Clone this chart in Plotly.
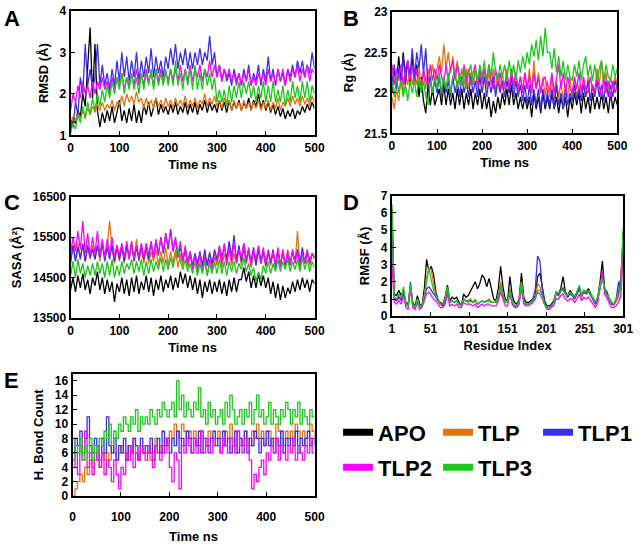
import plotly.graph_objects as go

# ---------------- data ----------------
time_ns = list(range(0, 501, 5))
residues = list(range(1, 302, 3))
names = ["APO", "TLP", "TLP1", "TLP2", "TLP3"]
colors = ["#000000", "#E8700F", "#3B2BF5", "#FF00FF", "#19C819"]

# Panel A: RMSD (Å)
rmsd_apo = [1.1,1.35,1.3,1.6,1.45,2.0,1.7,2.6,3.6,1.9,
            3.2,1.6,1.2,1.55,1.3,1.6,1.35,1.7,1.3,1.55,
            1.85,1.35,1.6,1.3,1.65,1.35,1.75,1.3,1.6,1.3,
            1.75,1.5,1.8,1.45,1.7,1.9,1.5,1.75,1.55,1.7,
            1.5,1.75,1.55,1.8,1.5,1.7,1.55,1.8,1.5,1.75,
            1.55,1.8,1.5,1.75,1.6,1.85,1.55,1.8,1.6,1.75,
            1.55,1.85,1.6,1.8,1.55,1.85,1.6,1.8,1.65,1.85,
            1.6,1.8,1.65,1.9,1.6,1.85,1.7,2.0,1.65,1.85,
            1.6,1.8,1.55,1.75,1.5,1.7,1.45,1.65,1.4,1.6,
            1.45,1.65,1.4,1.6,1.5,1.7,1.55,1.75,1.6,1.8,
            1.65]
rmsd_tlp = [1.25,1.45,1.35,1.55,1.4,1.6,1.45,1.65,1.5,1.7,
            1.55,1.75,1.6,1.8,1.6,1.75,1.65,1.85,1.6,1.8,
            1.75,1.95,1.7,2.0,1.8,1.95,1.75,2.05,1.8,1.9,
            1.65,1.9,1.7,1.85,1.65,1.9,1.7,1.85,1.65,1.9,
            1.7,1.85,1.65,1.9,1.7,1.85,1.7,1.95,1.65,1.85,
            1.7,1.9,1.65,1.85,1.75,2.0,1.7,1.9,1.75,1.95,
            1.7,1.85,1.65,1.9,1.7,1.85,1.6,1.85,1.65,1.8,
            1.6,1.85,1.65,1.8,1.6,1.8,1.65,1.85,1.6,1.8,
            1.65,1.85,1.6,1.8,1.65,1.9,1.6,1.8,1.7,1.9,
            1.7,1.95,1.75,1.9,1.7,1.95,1.75,1.9,1.7,1.95,
            1.8]
rmsd_tlp1 = [1.4,1.2,1.8,1.5,2.4,2.0,3.2,2.2,2.6,2.1,
             2.4,3.2,2.2,2.7,2.2,2.5,2.1,2.6,2.2,2.8,
             2.3,3.0,2.4,2.9,2.3,2.8,2.4,3.0,2.3,2.8,
             2.4,2.9,2.5,3.1,2.4,2.9,2.5,2.8,2.4,2.9,
             2.6,3.1,2.7,3.2,2.6,3.0,2.7,3.1,2.6,3.0,
             2.6,3.0,2.7,3.1,2.7,3.0,2.8,3.4,2.7,3.0,
             2.4,2.7,2.3,2.6,2.3,2.5,2.2,2.6,2.3,2.5,
             2.2,2.6,2.3,2.7,2.2,2.5,2.3,2.7,2.2,2.6,
             2.3,2.9,2.3,2.6,2.2,2.6,2.3,2.5,2.2,2.6,
             2.4,2.7,2.4,2.8,2.5,2.8,2.4,2.7,2.5,3.0,
             2.6]
rmsd_tlp2 = [1.6,2.0,1.8,2.2,1.9,2.3,2.0,2.2,1.9,2.3,
             2.0,2.3,2.1,2.4,2.1,2.3,2.0,2.4,2.1,2.4,
             2.2,2.5,2.1,2.4,2.2,2.5,2.2,2.6,2.2,2.5,
             2.2,2.6,2.3,2.5,2.2,2.6,2.3,2.6,2.3,2.5,
             2.3,2.6,2.3,2.6,2.3,2.7,2.3,2.6,2.3,2.7,
             2.3,2.6,2.4,2.7,2.3,2.6,2.4,2.8,2.4,2.7,
             2.4,2.7,2.3,2.6,2.4,2.6,2.3,2.5,2.2,2.5,
             2.2,2.5,2.3,2.6,2.2,2.4,2.2,2.5,2.3,2.5,
             2.2,2.6,2.3,2.5,2.2,2.6,2.3,2.6,2.2,2.6,
             2.3,2.6,2.4,2.7,2.3,2.6,2.4,2.7,2.3,2.6,
             2.5]
rmsd_tlp3 = [1.05,1.3,1.15,1.5,1.3,1.7,1.4,1.8,1.5,1.9,
             1.6,2.0,1.7,2.1,1.8,2.2,1.9,2.3,2.0,2.4,
             2.1,2.5,2.0,2.4,2.1,2.5,2.1,2.4,2.0,2.5,
             2.1,2.5,2.2,2.6,2.1,2.6,2.2,2.5,2.2,2.6,
             2.2,2.6,2.2,2.8,2.2,2.5,2.1,2.6,2.2,2.6,
             2.1,2.7,2.1,2.5,2.1,2.6,2.2,2.5,2.1,2.4,
             1.8,2.1,1.8,2.1,1.7,2.2,1.8,2.2,1.9,2.3,
             1.9,2.3,2.0,2.3,1.9,2.2,1.8,2.2,1.9,2.3,
             1.8,2.2,1.8,2.3,1.8,2.1,1.8,2.2,1.7,2.1,
             1.8,2.3,1.9,2.2,1.8,2.3,1.9,2.3,1.8,2.2,
             2.0]

# Panel B: Rg (Å)
rg_apo = [22.0,22.3,22.1,22.45,22.15,22.5,22.2,22.4,22.1,22.45,
          22.1,22.35,21.95,22.2,21.9,21.75,22.1,21.85,22.05,21.85,
          21.95,22.05,21.85,22.1,21.85,22.05,21.85,22.0,21.8,22.05,
          21.85,22.05,21.8,22.0,21.85,22.05,21.8,22.0,21.85,22.05,
          21.8,22.0,21.8,21.95,21.7,21.9,21.75,21.95,21.8,22.0,
          21.85,22.05,21.85,22.1,21.85,22.0,21.8,21.95,21.8,21.95,
          21.8,21.95,21.7,22.0,21.8,21.95,21.75,22.0,21.8,21.95,
          21.8,22.0,21.8,21.95,21.75,21.95,21.8,21.95,21.7,21.95,
          21.8,22.0,21.85,22.0,21.75,22.0,21.8,21.95,21.75,22.0,
          21.8,21.95,21.8,22.0,21.8,21.95,21.75,22.0,21.8,21.95,
          21.85]
rg_tlp = [21.95,21.8,22.05,21.9,22.2,22.0,22.25,22.1,22.3,22.1,
          22.25,22.1,22.3,22.1,22.25,22.05,22.3,22.15,22.35,22.15,
          22.3,22.45,22.25,22.6,22.3,22.5,22.25,22.45,22.2,22.4,
          22.1,22.3,22.1,22.3,22.05,22.25,22.1,22.3,22.05,22.3,
          22.1,22.3,22.05,22.25,22.1,22.3,22.0,22.25,22.05,22.25,
          22.05,22.3,22.0,22.2,22.05,22.25,22.0,22.2,22.05,22.25,
          22.05,22.3,22.0,22.4,22.05,22.25,22.0,22.2,21.95,22.15,
          21.95,22.2,21.9,22.15,21.95,22.15,21.9,22.1,21.95,22.2,
          21.9,22.15,21.95,22.1,21.9,22.15,21.95,22.2,21.9,22.1,
          22.0,22.3,22.1,22.4,22.05,22.25,22.0,22.2,22.05,22.2,
          22.1]
rg_tlp1 = [22.1,22.35,22.05,22.3,22.15,22.45,22.1,22.4,22.2,22.55,
           22.2,22.5,22.3,22.6,22.25,22.55,22.05,22.2,22.0,22.15,
           22.0,22.2,21.95,22.2,22.0,22.15,21.95,22.2,22.0,22.15,
           21.95,22.2,22.0,22.15,21.95,22.2,22.0,22.15,21.95,22.2,
           22.0,22.2,21.95,22.15,22.0,22.2,21.95,22.15,22.0,22.15,
           21.95,22.15,22.0,22.2,21.95,22.15,21.95,22.1,21.9,22.1,
           21.85,22.1,21.85,22.05,21.85,22.05,21.8,22.05,21.85,22.0,
           21.85,22.05,21.8,22.1,21.85,22.0,21.8,22.05,21.85,22.0,
           21.9,22.1,21.9,22.05,21.9,22.1,21.95,22.15,21.9,22.1,
           21.95,22.15,21.95,22.1,21.9,22.15,21.95,22.1,21.95,22.15,
           22.05]
rg_tlp2 = [22.35,22.1,22.3,22.15,22.35,22.1,22.3,22.4,22.15,22.35,
           22.1,22.3,22.15,22.05,22.3,22.15,22.1,22.35,22.15,22.3,
           22.15,22.35,22.2,22.1,22.35,22.15,22.3,22.4,22.15,22.35,
           22.2,22.1,22.35,22.15,22.3,22.1,22.25,22.35,22.1,22.3,
           22.15,22.3,22.1,22.35,22.15,22.05,22.3,22.1,22.25,22.05,
           22.1,22.25,22.05,22.3,22.1,22.25,22.05,22.2,22.0,22.25,
           22.05,22.2,22.0,22.25,22.05,22.2,22.0,22.15,22.2,22.0,
           22.05,22.25,22.0,22.2,22.35,22.05,22.25,22.0,22.2,22.05,
           22.0,22.2,22.05,22.25,22.0,22.2,22.05,22.0,22.2,22.05,
           22.0,22.2,22.05,21.95,22.2,22.0,22.15,21.95,22.15,22.0,
           22.1]
rg_tlp3 = [22.15,21.95,22.2,22.0,22.15,21.95,22.1,21.9,22.15,22.0,
           22.15,21.95,22.2,22.0,22.15,21.95,21.85,22.15,22.0,22.2,
           22.05,22.25,22.0,22.2,22.05,22.25,22.0,22.2,22.3,22.05,
           22.25,22.1,22.3,22.05,22.25,22.35,22.1,22.3,22.15,22.35,
           22.2,22.4,22.15,22.35,22.2,22.5,22.25,22.15,22.35,22.2,
           22.35,22.15,22.4,22.2,22.35,22.15,22.4,22.25,22.45,22.3,
           22.5,22.35,22.6,22.45,22.65,22.4,22.7,22.45,22.8,22.5,
           22.5,22.3,22.55,22.25,22.45,22.2,22.4,22.15,22.35,22.2,
           22.15,22.35,22.2,22.4,22.15,22.35,22.45,22.2,22.35,22.15,
           22.35,22.15,22.3,22.4,22.15,22.35,22.2,22.15,22.35,22.2,
           22.3]

# Panel C: SASA (Å²)
sasa_apo = [14200,14500,14150,14550,14250,14600,14200,14450,14100,14500,
            14300,14650,14200,14500,14100,14450,14150,14400,13900,14350,
            14150,14500,14100,14450,14050,14500,14150,14550,14100,14400,
            14200,14550,14150,14500,14050,14450,14200,14550,14150,14450,
            14250,14550,14200,14500,14250,14650,14350,14600,14250,14550,
            14200,14500,14100,14450,14000,14400,14150,14450,14100,14400,
            14150,14450,14100,14400,14050,14450,14150,14500,14150,14450,
            14450,14750,14400,14650,14250,14550,14250,14600,14300,14550,
            14250,14500,14100,14400,14000,14350,13950,14300,14000,14250,
            14100,14400,14150,14450,14200,14500,14250,14450,14150,14450,
            14350]
sasa_tlp = [14900,15300,14950,15350,15000,15300,14900,15250,14950,15300,
            14950,15300,14900,15350,15000,15250,15900,15200,14850,15250,
            14900,15300,14850,15250,14950,15350,14950,15450,14900,15200,
            14850,15200,14850,15150,14900,15200,14800,15150,14850,15250,
            14800,15150,14850,15200,14750,15100,14800,15200,14750,15100,
            14750,15100,14750,15100,14700,15050,14800,15150,14750,15100,
            14800,15150,14750,15100,14850,15200,14800,15100,14850,15250,
            14800,15200,14850,15150,14750,15150,14800,15200,14850,15150,
            14750,15150,14800,15100,14850,15200,14800,15150,14800,15200,
            14800,15150,14850,15650,14800,15150,14850,15100,14800,15100,
            14950]
sasa_tlp1 = [14850,15300,14900,15250,14950,15350,14900,15300,15000,15200,
             14950,15300,15000,15350,14900,15250,14950,15300,14900,15300,
             14950,15250,14900,15300,15000,15350,14900,15250,14950,15300,
             14950,15300,14950,15350,15000,15400,15050,15500,15100,15600,
             15200,15700,15150,15450,15000,15250,14950,15200,14850,15150,
             14800,15100,14850,15150,14800,15200,14800,15100,14850,15200,
             14950,15250,15000,15300,14950,15400,15000,15550,14900,15300,
             14900,15350,14950,15200,14900,15250,14800,15200,14850,15150,
             14800,15150,14850,15200,14750,15150,14800,15150,14800,15050,
             14850,15150,14900,15200,14850,15250,14850,15150,14900,15100,
             15000]
sasa_tlp2 = [15100,15500,15150,15650,15200,15900,15100,15600,15050,15500,
             15100,15650,15050,15450,15000,15450,15050,15500,15000,15300,
             15050,15350,15000,15400,14950,15400,14950,15300,15000,15350,
             15000,15350,15050,15400,15000,15450,15100,15500,15150,15550,
             15250,15650,15150,15500,15000,15400,14900,15300,14800,15150,
             14700,15050,14650,15100,14650,15000,14550,14950,14700,15000,
             14900,15300,14850,15350,14800,15250,14900,15400,14850,15200,
             15000,15350,14850,15250,14800,15200,14950,15300,14900,15250,
             14850,15200,14900,15150,14800,15250,14750,15200,14800,15150,
             14800,15200,14850,15150,14750,15100,14850,15200,14850,15100,
             15000]
sasa_tlp3 = [14550,14900,14500,14950,14600,14850,14500,14800,14550,14850,
             14550,14900,14600,14850,14500,14900,14550,14950,14500,14800,
             14550,14900,14600,14850,14700,14950,14600,14900,14650,14950,
             14550,14900,14600,14950,14650,14900,14700,15000,14650,14950,
             14700,15000,14750,15050,15250,14900,14700,14950,14650,14850,
             14600,14900,14550,14850,14600,14900,14550,14850,14600,14900,
             14600,14950,14600,14900,14550,14900,14650,14900,14600,14850,
             14700,15000,14650,14850,14550,14750,14400,14650,14450,14800,
             14600,14900,14600,14850,14650,14950,14650,14900,14700,14950,
             14650,14900,14700,14950,14650,15000,14700,14950,14650,14900,
             14750]

# Panel D: RMSF (Å) per residue
rmsf_apo = [5.8,1.3,1.2,1.5,1.2,1.4,0.8,0.7,1.6,0.8,
            0.6,1.2,0.7,0.6,1.6,3.3,2.6,2.9,2.4,1.4,
            0.9,0.8,0.7,1.1,1.8,0.9,1.1,1.0,1.1,0.8,
            0.6,1.3,1.1,1.2,1.5,1.8,2.0,1.6,1.9,2.4,
            2.2,1.7,2.2,1.6,1.0,0.9,1.6,2.9,1.7,1.0,
            0.9,2.3,1.2,0.8,0.7,1.0,2.5,1.1,0.8,0.8,
            0.9,1.0,1.2,2.3,2.5,1.6,0.9,0.6,0.6,0.7,
            0.9,1.4,1.3,1.6,2.3,1.4,1.2,1.5,1.3,1.1,
            1.4,1.7,1.2,1.5,1.4,1.6,1.3,1.0,0.8,1.1,
            2.0,3.2,1.6,1.4,1.0,0.8,0.7,1.0,1.3,2.3,
            4.5]
rmsf_tlp = [6.0,1.1,1.0,1.2,1.0,1.5,0.7,0.6,1.8,0.7,
            0.5,1.0,0.5,0.6,1.2,2.2,2.8,2.7,1.9,1.2,
            0.9,0.7,0.6,0.9,1.6,0.8,0.9,0.8,0.9,0.7,
            0.6,1.0,0.9,0.8,0.9,0.8,1.0,0.7,0.8,0.9,
            0.8,0.9,1.0,0.8,0.8,0.8,1.2,2.0,1.3,0.8,
            0.8,1.6,0.9,0.6,0.6,0.9,2.0,0.9,0.7,0.7,
            0.8,0.9,1.1,1.9,1.7,1.2,0.7,0.5,0.5,0.6,
            0.8,1.3,1.2,1.4,1.7,1.3,1.1,1.3,1.2,1.0,
            1.3,1.6,1.1,1.4,1.3,1.4,1.2,0.9,0.7,1.0,
            1.8,2.4,1.5,1.2,0.9,0.7,0.6,0.9,1.1,2.0,
            4.8]
rmsf_tlp1 = [6.2,1.0,0.9,1.1,0.9,1.4,0.7,0.6,2.0,0.7,
             0.5,1.0,0.5,0.6,1.1,1.6,1.7,1.5,1.3,1.1,
             0.9,0.7,0.6,0.9,1.6,0.8,0.9,0.8,0.9,0.7,
             0.6,1.0,0.9,0.9,0.9,0.8,0.9,0.7,0.8,0.9,
             0.8,0.9,0.9,0.8,0.8,0.8,1.1,1.7,1.2,0.8,
             0.8,1.5,0.9,0.6,0.6,0.9,1.9,0.9,0.7,0.7,
             0.8,1.0,1.6,3.5,3.2,1.6,0.8,0.5,0.5,0.6,
             0.8,1.3,1.2,1.5,1.6,1.3,1.1,1.3,1.2,1.0,
             1.3,1.6,1.2,1.4,1.3,1.5,1.2,0.9,0.7,1.0,
             1.7,2.3,1.5,1.2,0.9,0.7,0.7,1.0,2.0,1.5,
             4.9]
rmsf_tlp2 = [3.0,0.8,0.7,0.9,0.7,1.2,0.5,0.4,1.6,0.5,
             0.4,0.8,0.4,0.5,0.9,1.3,1.4,1.2,1.0,0.9,
             0.7,0.5,0.5,0.7,1.3,0.6,0.7,0.6,0.7,0.5,
             0.5,0.8,0.7,0.7,0.7,0.6,0.7,0.5,0.6,0.7,
             0.6,0.7,0.7,0.6,0.6,0.6,0.9,1.4,1.0,0.6,
             0.6,1.3,0.7,0.5,0.5,0.7,1.6,0.7,0.6,0.6,
             0.7,0.8,1.0,1.4,1.3,1.0,0.6,0.4,0.4,0.5,
             0.6,1.0,1.0,1.2,1.3,1.0,0.9,1.0,1.0,0.8,
             1.0,1.3,0.9,1.1,1.0,1.1,0.9,0.7,0.5,0.8,
             1.8,2.6,1.3,1.0,0.7,0.5,0.5,0.6,0.8,1.2,
             3.5]
rmsf_tlp3 = [6.5,1.1,1.0,1.3,1.1,1.7,0.7,0.6,1.9,0.7,
             0.5,1.0,0.5,0.6,1.2,2.0,2.8,2.1,1.5,1.2,
             1.0,0.7,0.7,1.0,1.7,0.8,0.9,0.8,0.9,0.7,
             0.6,1.0,0.9,0.9,1.0,0.8,0.9,0.7,0.8,0.9,
             0.8,0.9,0.9,0.8,0.8,0.8,1.2,1.8,1.2,0.8,
             0.8,1.5,0.9,0.6,0.6,0.9,2.0,0.9,0.7,0.7,
             0.8,0.9,1.1,1.5,1.5,1.2,0.7,0.5,0.5,0.6,
             0.8,1.4,1.3,1.5,1.5,1.3,1.2,1.4,1.3,1.1,
             1.4,1.8,1.2,1.5,1.4,1.5,1.3,1.0,0.8,1.1,
             1.8,2.2,1.6,1.3,1.0,0.8,0.7,1.0,1.2,1.6,
             5.2]

# Panel E: H-bond count (ligand complexes only)
hb_tlp = [0,1,2,3,2,4,3,5,4,6,
          5,4,6,5,6,5,7,6,5,6,
          7,6,5,7,6,8,6,5,7,6,
          6,7,5,6,8,6,7,6,8,7,
          9,8,10,9,8,10,9,8,9,8,
          9,7,8,9,8,7,9,8,7,8,
          9,8,7,9,8,10,8,7,9,8,
          7,9,8,7,9,8,10,8,9,7,
          8,9,7,8,10,9,8,7,9,8,
          9,8,10,9,8,9,7,8,10,9,
          8]
hb_tlp1 = [6,8,7,9,6,8,11,7,6,8,
           7,5,8,6,11,7,6,8,5,7,
           6,8,5,7,6,8,7,5,8,6,
           7,6,8,5,7,8,6,9,7,8,
           6,8,7,9,6,8,7,9,8,6,
           8,7,9,6,8,7,6,8,9,7,
           8,6,9,7,8,6,7,9,6,8,
           7,9,6,8,7,9,8,6,8,7,
           9,7,8,6,8,7,9,6,8,7,
           8,7,9,6,8,7,8,9,7,8,
           7]
hb_tlp2 = [4,6,3,7,5,9,4,6,3,5,
           7,4,6,3,5,4,2,5,3,1,
           4,3,6,5,7,4,6,5,7,6,
           5,7,6,4,7,6,5,7,6,8,
           4,2,6,5,1,7,6,8,7,6,
           8,6,7,9,6,8,7,6,8,7,
           7,6,8,7,6,8,7,6,9,7,
           6,8,7,5,1,3,2,4,5,3,
           6,5,7,6,8,5,7,6,5,7,
           6,8,5,7,6,5,7,6,8,6,
           6]
hb_tlp3 = [5,7,6,8,5,7,6,8,5,7,
           6,8,7,9,8,10,7,9,8,10,
           9,11,10,9,11,10,12,9,11,10,
           11,10,12,11,10,12,11,13,12,11,
           12,13,11,16,12,14,11,13,12,11,
           13,12,15,11,12,10,13,11,12,10,
           11,12,10,13,11,14,12,10,11,12,
           10,12,11,13,10,12,14,11,12,10,
           11,13,10,12,11,10,12,11,13,12,
           10,12,11,13,10,12,11,10,12,11,
           11]

# ---------------- figure ----------------
FONT = "Liberation Sans, Arial, sans-serif"
W, H = 642, 544
fig = go.Figure()

def add_series(xs, ys_list, cols, xa, ya, shape="linear"):
    for ys, c in zip(ys_list, cols):
        fig.add_trace(go.Scatter(x=xs[:len(ys)], y=ys, mode="lines",
                                 line=dict(color=c, width=1.3, shape=shape),
                                 xaxis=xa, yaxis=ya, showlegend=False,
                                 hoverinfo="skip"))

add_series(time_ns, [rmsd_apo, rmsd_tlp, rmsd_tlp1, rmsd_tlp2, rmsd_tlp3], colors, "x", "y")
add_series(time_ns, [rg_apo, rg_tlp, rg_tlp1, rg_tlp2, rg_tlp3], colors, "x2", "y2")
add_series(time_ns, [sasa_apo, sasa_tlp, sasa_tlp1, sasa_tlp2, sasa_tlp3], colors, "x3", "y3")
add_series(residues, [rmsf_apo, rmsf_tlp, rmsf_tlp1, rmsf_tlp2, rmsf_tlp3], colors, "x4", "y4")
add_series(time_ns, [hb_tlp, hb_tlp1, hb_tlp2, hb_tlp3], colors[1:], "x5", "y5", shape="hv")

# legend entries (two rows as two legends)
for i, (n, c) in enumerate(zip(names, colors)):
    fig.add_trace(go.Scatter(x=[None], y=[None], mode="lines", name=n,
                             line=dict(color=c, width=7),
                             xaxis="x", yaxis="y", showlegend=True,
                             legend="legend" if i < 3 else "legend2"))

def px(x):
    return x / W

def py(y):
    return 1 - y / H

tickfont = dict(family=FONT, size=12, color="black", weight="bold")
titlefont = dict(family=FONT, size=13, color="black", weight="bold")

def axis(domain, anchor, rng, title, standoff, **kw):
    d = dict(domain=domain, anchor=anchor, range=rng, showline=True, mirror=True,
             linecolor="black", linewidth=2, ticks="inside", ticklen=4, tickwidth=1,
             tickcolor="black", showgrid=False, zeroline=False, tickfont=tickfont,
             title=dict(text=title, font=titlefont, standoff=standoff))
    d.update(kw)
    return d

layout = dict(
    width=W, height=H, margin=dict(l=0, r=0, t=0, b=0),
    paper_bgcolor="white", plot_bgcolor="white",
    xaxis=axis([px(69), px(318)], "y", [0, 500], "Time ns", 6, dtick=100),
    yaxis=axis([py(132), py(4)], "x", [1, 4], "RMSD (Å)", 8, dtick=1),
    xaxis2=axis([px(397), px(627)], "y2", [0, 500], "Time ns", 6, dtick=100),
    yaxis2=axis([py(130), py(5)], "x2", [21.5, 23], "Rg (Å)", 8, dtick=0.5),
    xaxis3=axis([px(69), px(318)], "y3", [0, 500], "Time ns", 6, dtick=100),
    yaxis3=axis([py(320), py(195)], "x3", [13500, 16500], "SASA (Å²)", 8,
                tickvals=[13500, 14500, 15500, 16500], tickformat="d"),
    xaxis4=axis([px(397), px(633)], "y4", [1, 301], "Residue Index", 6,
                tickvals=[1, 51, 101, 151, 201, 251, 301]),
    yaxis4=axis([py(318), py(194)], "x4", [0, 7], "RMSF (Å)", 8, dtick=1),
    xaxis5=axis([px(71), px(318)], "y5", [0, 500], "Time ns", 11, dtick=100,
                ticklabelstandoff=8),
    yaxis5=axis([py(503), py(377)], "x5", [0, 17], "H. Bond Count", 8,
                tickvals=list(range(0, 17, 2))),
)
legfont = dict(family=FONT, size=22, color="black", weight="bold")
layout["legend"] = dict(orientation="h", x=px(342), xanchor="left", y=py(416), yanchor="top",
                        font=legfont, bgcolor="rgba(0,0,0,0)", entrywidth=55,
                        entrywidthmode="pixels", itemclick=False, itemdoubleclick=False)
layout["legend2"] = dict(orientation="h", x=px(342), xanchor="left", y=py(452), yanchor="top",
                         font=legfont, bgcolor="rgba(0,0,0,0)", entrywidth=55,
                         entrywidthmode="pixels", itemclick=False, itemdoubleclick=False)
fig.update_layout(**layout)

letters = [("A", 9, 12), ("B", 355, 12), ("C", 9, 201), ("D", 355, 201), ("E", 9, 384)]
for t, lx, ly in letters:
    fig.add_annotation(text=t, x=px(lx), y=py(ly), xref="paper", yref="paper",
                       xanchor="center", yanchor="middle", showarrow=False,
                       font=dict(family=FONT, size=22, color="black", weight="bold"))

fig.write_html("out.html")
